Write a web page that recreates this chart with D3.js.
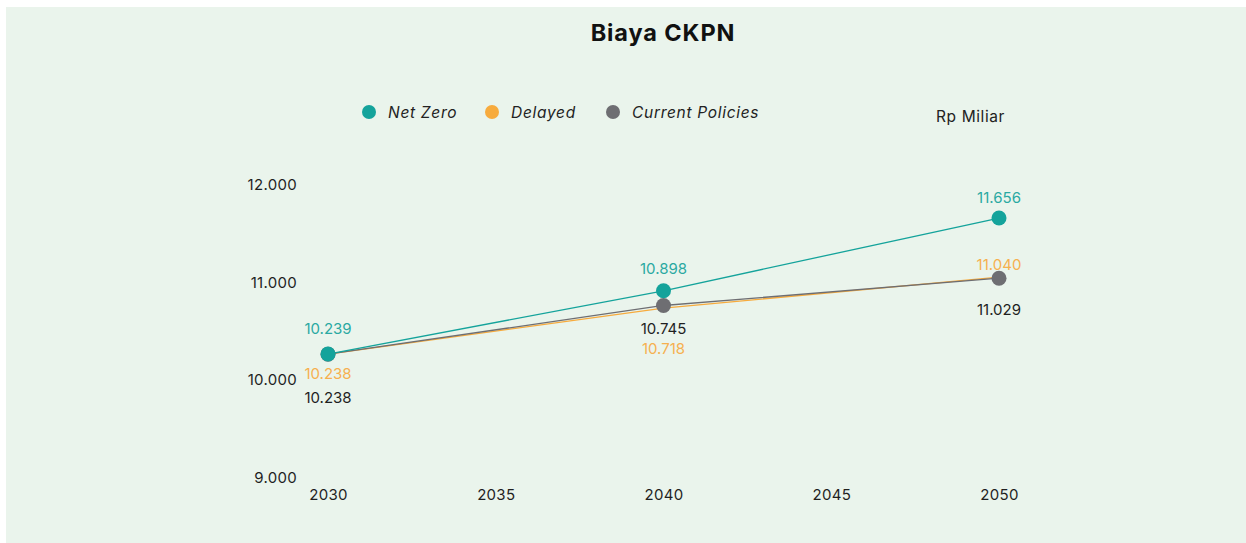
<!DOCTYPE html>
<html>
<head>
<meta charset="utf-8">
<script src="https://cdn.jsdelivr.net/npm/d3@7"></script>
<style>
  html, body { margin: 0; padding: 0; background: #ffffff; }
  svg { display: block; font-family: Inter, "Open Sans", sans-serif; }
</style>
</head>
<body>
<svg id="chart" width="1246" height="543"></svg>
<script>
// Tahun proyeksi dan nilai CKPN (Rp miliar) per skenario
const years = [2030, 2040, 2050];
const xTickYears = [2030, 2035, 2040, 2045, 2050];
const yTicks = [9000, 10000, 11000, 12000];
const netZero = [10239, 10898, 11656];
const delayed = [10238, 10718, 11040];
const currentPolicies = [10238, 10745, 11029];
const seriesNames = ["Net Zero", "Delayed", "Current Policies"];
// label position per point: -1 above the marker, 1 below
const netZeroLabelSide = [-1, -1, -1];
const delayedLabelSide = [1, 1, -1];
const currentLabelSide = [1, 1, 1];

const colors = { "Net Zero": "#14a39b", "Delayed": "#f7ab3d", "Current Policies": "#6e6e72" };
const labelColors = { "Net Zero": "#2aa9a2", "Delayed": "#f6b04f", "Current Policies": "#1f1f1f" };

// drawing order: Delayed underneath, Net Zero on top; Delayed has no point markers
const series = [
  { name: "Delayed", values: delayed, side: delayedLabelSide, offset: [20, 41, 12], marker: false },
  { name: "Current Policies", values: currentPolicies, side: currentLabelSide, offset: [44, 23, 32], marker: true },
  { name: "Net Zero", values: netZero, side: netZeroLabelSide, offset: [25, 22, 20], marker: true }
];

const svg = d3.select("#chart");

svg.append("rect")
  .attr("x", 6).attr("y", 7).attr("width", 1240).attr("height", 536)
  .attr("fill", "#eaf4ec");

svg.append("text")
  .attr("x", 663).attr("y", 41)
  .attr("text-anchor", "middle")
  .attr("font-size", 23.5).attr("font-weight", 700)
  .attr("letter-spacing", 0.9)
  .attr("fill", "#111")
  .text("Biaya CKPN");

const x = d3.scaleLinear().domain([2030, 2050]).range([328, 999]);
const y = d3.scaleLinear().domain([9000, 12000]).range([473, 185]);

const fmt = v => d3.format(",")(v).replace(/,/g, ".");

// axes without domain lines or tick marks
const xAxis = svg.append("g")
  .attr("transform", "translate(0,489)")
  .call(d3.axisBottom(x).tickValues(xTickYears).tickFormat(d3.format("d")).tickSize(0).tickPadding(0));
xAxis.select(".domain").remove();
xAxis.selectAll("text").attr("font-size", 15).attr("fill", "#1f1f1f")
  .attr("letter-spacing", 0.3)
  .attr("font-family", "Inter, 'Open Sans', sans-serif").attr("dy", "0.71em");

const yAxis = svg.append("g")
  .attr("transform", "translate(297,0)")
  .call(d3.axisLeft(y).tickValues(yTicks).tickFormat(fmt).tickSize(0).tickPadding(0));
yAxis.select(".domain").remove();
yAxis.selectAll("text").attr("font-size", 15).attr("fill", "#1f1f1f")
  .attr("letter-spacing", 0.3)
  .attr("dy", d => (0.32 + (12000 - d) / 1000 * 0.1) + "em")
  .attr("font-family", "Inter, 'Open Sans', sans-serif");

const line = d3.line().x((d, i) => x(years[i])).y(d => y(d));

series.forEach(s => {
  svg.append("path")
    .datum(s.values)
    .attr("d", line)
    .attr("fill", "none")
    .attr("stroke", colors[s.name])
    .attr("stroke-width", 1.3);
});

series.filter(s => s.marker).forEach(s => {
  svg.selectAll(null)
    .data(s.values)
    .enter().append("circle")
    .attr("cx", (d, i) => x(years[i]))
    .attr("cy", d => y(d))
    .attr("r", 7.5)
    .attr("fill", colors[s.name]);
});

series.forEach(s => {
  svg.selectAll(null)
    .data(s.values)
    .enter().append("text")
    .attr("x", (d, i) => x(years[i]))
    .attr("y", (d, i) => y(d) + s.side[i] * s.offset[i])
    .attr("dy", "0.35em")
    .attr("text-anchor", "middle")
    .attr("font-size", 15)
    .attr("fill", labelColors[s.name])
    .text(d => fmt(d));
});

// legend
const legendX = [369, 492, 613];
const legend = svg.append("g");
seriesNames.forEach((name, i) => {
  legend.append("circle")
    .attr("cx", legendX[i]).attr("cy", 112).attr("r", 7)
    .attr("fill", colors[name]);
  legend.append("text")
    .attr("x", legendX[i] + 19).attr("y", 113)
    .attr("dy", "0.35em")
    .attr("font-size", 15.5).attr("font-style", "italic")
    .attr("letter-spacing", 0.7)
    .attr("fill", "#222")
    .text(name);
});

svg.append("text")
  .attr("x", 936).attr("y", 117)
  .attr("dy", "0.35em")
  .attr("font-size", 15.5)
  .attr("letter-spacing", 0.6)
  .attr("fill", "#222")
  .text("Rp Miliar");
</script>
</body>
</html>
